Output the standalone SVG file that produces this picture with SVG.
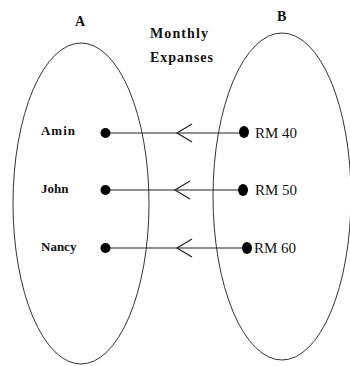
<svg xmlns="http://www.w3.org/2000/svg" width="350" height="366" viewBox="0 0 350 366">
<style>
.set{fill:none;stroke:#333;stroke-width:1}
.edge{stroke:#222;stroke-width:1.2;fill:none}
.dot{fill:#000}
text{font-family:'Liberation Serif','Times New Roman','DejaVu Serif',serif;fill:#111}
.lbl{font-weight:bold;font-size:13px}
.val{font-size:15px}
.ttl{font-weight:bold;font-size:14px}
</style>
<rect width="350" height="366" fill="#fff"/>
<g id="setA">
<ellipse class="set" cx="81" cy="203.5" rx="68" ry="160.5"/>
<text class="ttl" x="75" y="26">A</text>
</g>
<g id="setB">
<ellipse class="set" cx="282" cy="196.5" rx="69" ry="163.5"/>
<text class="ttl" x="277" y="21">B</text>
</g>
<g id="title">
<text class="ttl" x="150" y="38" textLength="58" lengthAdjust="spacing">Monthly</text>
<text class="ttl" x="150" y="62" textLength="63" lengthAdjust="spacing">Expanses</text>
</g>
<g id="connectors">
<line class="edge" x1="105" y1="133" x2="244" y2="133"/>
<polyline class="edge" points="192,124 177,133 192,142"/>
<line class="edge" x1="105" y1="190" x2="243" y2="190"/>
<polyline class="edge" points="190,181 175,190 190,199"/>
<line class="edge" x1="105" y1="248" x2="247" y2="248"/>
<polyline class="edge" points="192,239 177,248 192,257"/>
</g>
<g id="amin"><ellipse class="dot" cx="105.5" cy="133" rx="5" ry="5"/><text class="lbl" x="41" y="135" textLength="34" lengthAdjust="spacing">Amin</text></g>
<g id="john"><ellipse class="dot" cx="105.5" cy="190" rx="5" ry="5"/><text class="lbl" x="41" y="193">John</text></g>
<g id="nancy"><ellipse class="dot" cx="105.5" cy="248" rx="5" ry="5"/><text class="lbl" x="41" y="251">Nancy</text></g>
<g id="rm40"><ellipse class="dot" cx="244" cy="132" rx="5" ry="6"/><text class="val" x="255" y="138">RM 40</text></g>
<g id="rm50"><ellipse class="dot" cx="243" cy="190" rx="5" ry="6"/><text class="val" x="255" y="195">RM 50</text></g>
<g id="rm60"><ellipse class="dot" cx="247" cy="248" rx="5" ry="6"/><text class="val" x="254" y="253">RM 60</text></g>
</svg>
